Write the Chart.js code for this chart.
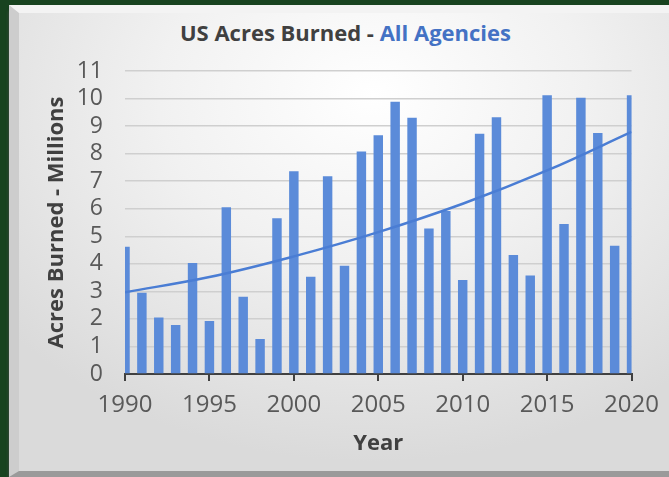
<!DOCTYPE html>
<html>
<head>
<meta charset="utf-8">
<script src="https://cdn.jsdelivr.net/npm/chart.js@4.4.1/dist/chart.umd.min.js"></script>
<style>
  html, body { margin: 0; padding: 0; }
  body {
    width: 669px; height: 477px; overflow: hidden; position: relative;
    background: #18431f;
    font-family: "Open Sans", sans-serif;
  }
  .panel {
    position: absolute; left: 9px; top: 5px; width: 680px; height: 458px;
    border-left: 10px solid #cdcdcd;
    border-top: 8px solid #f3f3f3;
    border-bottom: 6px solid #9a9a9a;
    background: radial-gradient(ellipse 70% 80% at 52% 18%, #ffffff 0%, #f1f1f1 45%, #dadada 100%);
    box-shadow: 0 6px 3px #4a4a4a;
  }
  .title {
    position: absolute; left: 0; width: 691px; top: 18px;
    text-align: center; font-weight: bold; font-size: 22px; line-height: 28px;
    color: #404040;
  }
  .title .blue { color: #4472c4; }
  canvas { position: absolute; left: 0; top: 0; }
</style>
</head>
<body>
<div class="panel"></div>
<div class="title">US Acres Burned - <span class="blue">All Agencies</span></div>
<canvas id="acresChart" width="669" height="477"></canvas>
<script>
const years = [1990, 1991, 1992, 1993, 1994, 1995, 1996, 1997, 1998, 1999,
  2000, 2001, 2002, 2003, 2004, 2005, 2006, 2007, 2008, 2009,
  2010, 2011, 2012, 2013, 2014, 2015, 2016, 2017, 2018, 2019, 2020];
const acresMillions = [4.62, 2.95, 2.05, 1.78, 4.03, 1.92, 6.05, 2.80, 1.27, 5.65,
  7.36, 3.53, 7.18, 3.93, 8.08, 8.67, 9.88, 9.30, 5.28, 5.92,
  3.41, 8.72, 9.32, 4.32, 3.58, 10.12, 5.45, 10.03, 8.75, 4.66, 10.12];

// exponential trendline, every 5 years
const trendYears = [1990, 1995, 2000, 2005, 2010, 2015, 2020];
const trendValues = [2.97, 3.52, 4.27, 5.15, 6.18, 7.39, 8.79];

const barColor = "#5b8bd9";
const lineColor = "#4a7dd4";
const tickColor = "#595959";
const titleColor = "#404040";

const ctx = document.getElementById("acresChart").getContext("2d");

const chart = new Chart(ctx, {
  type: "bar",
  data: {
    datasets: [
      {
        type: "line",
        label: "Trend",
        data: trendYears.map((yr, i) => ({ x: yr, y: trendValues[i] })),
        borderColor: lineColor,
        borderWidth: 2.5,
        pointRadius: 0,
        tension: 0.4,
        order: 0,
      },
      {
        type: "bar",
        label: "Acres Burned",
        data: years.map((yr, i) => ({ x: yr, y: acresMillions[i] })),
        backgroundColor: barColor,
        borderWidth: 0,
        barPercentage: 0.56,
        categoryPercentage: 1,
        order: 1,
      },
    ],
  },
  options: {
    responsive: false,
    animation: false,
    layout: { padding: { left: 28, top: 71, right: 36, bottom: 0 } },
    plugins: {
      legend: { display: false },
      tooltip: { enabled: false },
    },
    scales: {
      x: {
        type: "linear",
        min: 1990,
        max: 2020,
        offset: false,
        grid: {
          offset: false,
          drawOnChartArea: false,
          drawTicks: true,
          tickLength: 7,
          color: titleColor,
          lineWidth: 2,
        },
        border: { display: true, color: titleColor, width: 2 },
        ticks: {
          stepSize: 5,
          padding: 10,
          autoSkip: false,
          maxRotation: 0,
          color: tickColor,
          font: { family: "Open Sans", size: 24 },
          callback: (v) => String(v),
        },
        title: {
          display: true,
          text: "Year",
          color: titleColor,
          font: { family: "Open Sans", size: 22, weight: "bold", lineHeight: 1.2 },
          padding: { top: 0, bottom: 20 },
        },
        afterFit: (scale) => { scale.height = 103; },
      },
      y: {
        min: 0,
        max: 11,
        grid: { color: "#cfcfcf", lineWidth: 1.5, drawTicks: false },
        border: { display: false },
        ticks: {
          stepSize: 1,
          padding: 22,
          autoSkip: false,
          color: tickColor,
          font: { family: "Open Sans", size: 23 },
        },
        title: {
          display: true,
          text: "Acres Burned - Millions",
          color: titleColor,
          font: { family: "Open Sans", size: 22, weight: "bold", lineHeight: 1.2 },
          padding: { top: 16, bottom: 0 },
        },
        afterFit: (scale) => { scale.width = 97; },
      },
    },
  },
});
</script>
</body>
</html>
